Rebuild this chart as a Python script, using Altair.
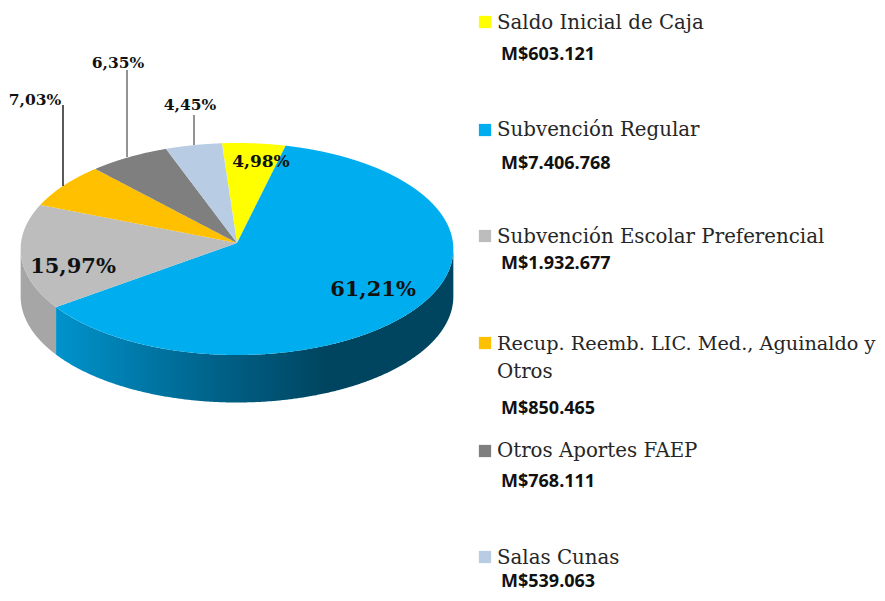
import math
import altair as alt
import pandas as pd

names = ["Saldo Inicial de Caja", "Subvención Regular", "Subvención Escolar Preferencial",
         "Recup. Reemb. LIC. Med., Aguinaldo y Otros", "Otros Aportes FAEP", "Salas Cunas"]
pct = [4.98, 61.21, 15.97, 7.03, 6.35, 4.45]
pct_labels = ["4,98%", "61,21%", "15,97%", "7,03%", "6,35%", "4,45%"]
amounts = ["M$603.121", "M$7.406.768", "M$1.932.677", "M$850.465", "M$768.111", "M$539.063"]
colors = ["#FFFF00", "#00AEEF", "#BDBDBD", "#FFC000", "#7F7F7F", "#B8CCE4"]

legend_lines = ["Saldo Inicial de Caja", "Subvención Regular", "Subvención Escolar Preferencial",
                "Recup. Reemb. LIC. Med., Aguinaldo y", "Otros", "Otros Aportes FAEP", "Salas Cunas"]
legend_line_y = [23, 130, 237, 344, 372, 451, 558]
legend_line_size = [19.8, 19.8, 19.8, 19.3, 19.8, 19.8, 19.8]
swatch_y = [22, 130, 236, 343, 451, 557]
amount_y = [55, 164, 264, 409, 482, 582]
pct_x = [261, 373, 73, 35, 118, 190]
pct_y = [162, 290, 267, 100, 63, 105]
pct_size = [17, 21, 21, 15.5, 15.5, 15.5]
leader_x = [63, 127, 194]
leader_top = [105, 70, 115]
leader_bottom = [186, 157, 145]
leader_color = ["#000000", "#595959", "#595959"]

# Pie geometry (image pixels), with the mild perspective of a tilted disc
XA, YA, RX, RY, K, DEPTH, START = 237, 243, 216, 105.66, 0.0566, 47.5, -4.2
W, H = 869, 585
xs = alt.Scale(domain=[8, 8 + W], range=[0, W])
ys = alt.Scale(domain=[8, 8 + H], range=[0, H])


def rim(phi):
    a = math.radians(phi)
    w = 1 + K * math.cos(a)
    return XA + RX * math.sin(a) / w, YA - RY * math.cos(a) / w


def envelope(poly):
    vals = set(round(p[0], 3) for p in poly)
    lo, hi = min(vals), max(vals)
    vals |= {float(v) for v in range(math.ceil(lo), math.floor(hi) + 1)}
    out = []
    n = len(poly)
    for x in sorted(vals):
        hits = []
        for i in range(n):
            (x0, y0), (x1, y1) = poly[i], poly[(i + 1) % n]
            if min(x0, x1) - 1e-6 <= x <= max(x0, x1) + 1e-6:
                if abs(x1 - x0) < 1e-9:
                    hits += [y0, y1]
                else:
                    hits.append(y0 + (y1 - y0) * (x - x0) / (x1 - x0))
        if hits:
            out.append({"x": x, "y": min(hits), "y2": max(hits)})
    return out


layers = []


def wall(phi0, phi1, fill):
    pts = []
    steps = 400
    for i in range(steps + 1):
        x, y = rim(phi0 + (phi1 - phi0) * i / steps)
        pts.append({"x": x, "y": y, "y2": y + DEPTH})
    return alt.Chart(pd.DataFrame(pts)).mark_area(fill=fill, stroke=None, opacity=1).encode(
        x=alt.X("x:Q", scale=xs, axis=None),
        y=alt.Y("y:Q", scale=ys, axis=None),
        y2="y2:Q",
    )


start = START
bounds = []
for p in pct:
    bounds.append((start, start + p * 3.6))
    start += p * 3.6

blue_end = bounds[1][1]
layers.append(wall(93, blue_end, alt.Gradient(
    gradient="linear", x1=0, x2=1, y1=0, y2=0,
    stops=[alt.GradientStop(offset=0, color="#0093CC"),
           alt.GradientStop(offset=0.4, color="#006289"),
           alt.GradientStop(offset=0.68, color="#004560"),
           alt.GradientStop(offset=1, color="#004560")])))
layers.append(wall(blue_end, 267, "#A6A6A6"))

for (a, b), c in zip(bounds, colors):
    steps = max(8, int((b - a) * 3))
    poly = [(XA, YA)] + [rim(a + (b - a) * i / steps) for i in range(steps + 1)]
    layers.append(alt.Chart(pd.DataFrame(envelope(poly))).mark_area(
        fill=c, stroke=None, opacity=1, interpolate="linear").encode(
        x=alt.X("x:Q", scale=xs, axis=None),
        y=alt.Y("y:Q", scale=ys, axis=None),
        y2="y2:Q",
    ))

leaders = pd.DataFrame({"x": leader_x, "y": leader_top, "y2": leader_bottom, "c": leader_color})
layers.append(alt.Chart(leaders).mark_rule(strokeWidth=1.3).encode(
    x=alt.X("x:Q", scale=xs, axis=None), y=alt.Y("y:Q", scale=ys, axis=None), y2="y2:Q",
    color=alt.Color("c:N", scale=None)))

pct_df = pd.DataFrame({"x": pct_x, "y": pct_y, "t": pct_labels, "s": pct_size})
layers.append(alt.Chart(pct_df).mark_text(font="DejaVu Serif", fontWeight="bold", color="#111111",
                                          align="center", baseline="middle").encode(
    x=alt.X("x:Q", scale=xs, axis=None), y=alt.Y("y:Q", scale=ys, axis=None), text="t:N",
    size=alt.Size("s:Q", scale=None)))

sw = pd.DataFrame({"x": [485] * 6, "y": swatch_y, "c": colors})
layers.append(alt.Chart(sw).mark_square(size=150, opacity=1).encode(
    x=alt.X("x:Q", scale=xs, axis=None), y=alt.Y("y:Q", scale=ys, axis=None),
    color=alt.Color("c:N", scale=None)))

leg = pd.DataFrame({"x": [497] * len(legend_lines), "y": legend_line_y, "t": legend_lines, "s": legend_line_size})
layers.append(alt.Chart(leg).mark_text(font="DejaVu Serif", color="#262626",
                                       align="left", baseline="middle").encode(
    x=alt.X("x:Q", scale=xs, axis=None), y=alt.Y("y:Q", scale=ys, axis=None), text="t:N",
    size=alt.Size("s:Q", scale=None)))

am = pd.DataFrame({"x": [501] * 6, "y": amount_y, "t": amounts})
layers.append(alt.Chart(am).mark_text(font="Open Sans", fontWeight="bold", fontSize=18, color="#111111",
                                      align="left", baseline="middle").encode(
    x=alt.X("x:Q", scale=xs, axis=None), y=alt.Y("y:Q", scale=ys, axis=None), text="t:N"))

chart = alt.layer(*layers).properties(
    width=W, height=H, padding=0, autosize=alt.AutoSizeParams(type="none"), background="white"
).configure_view(stroke=None)

chart.save("out.html", embed_options={"renderer": "svg", "actions": False})
